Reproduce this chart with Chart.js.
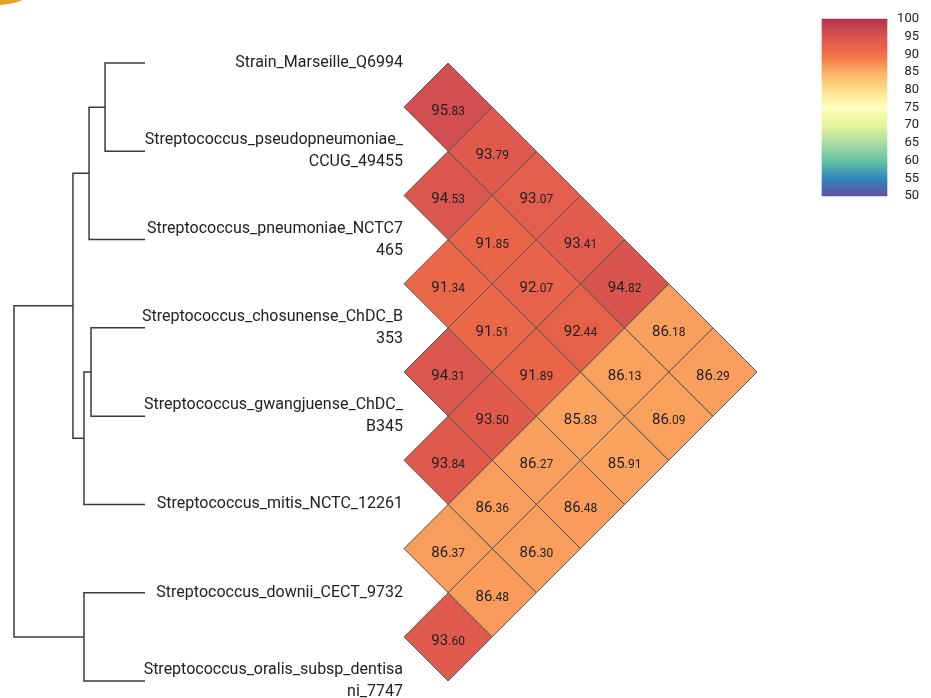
<!DOCTYPE html>
<html>
<head>
<meta charset="utf-8">
<script src="https://cdn.jsdelivr.net/npm/chart.js@4.4.0/dist/chart.umd.min.js"></script>
<style>
  html, body { margin: 0; padding: 0; background: #fff; overflow: hidden; }
  #wrap { position: relative; width: 931px; height: 698px; overflow: hidden; }
  #logo { position: absolute; left: -71px; top: -131px; width: 136px; height: 136px; border-radius: 50%; background: #e6a11f; }
</style>
</head>
<body>
<div id="wrap">
  <canvas id="chart" width="931" height="698"></canvas>
  <div id="logo"></div>
</div>
<script>
// leaf order of the tree (top to bottom), long names wrapped like the original
const strains = [
  'Strain_Marseille_Q6994',
  ['Streptococcus_pseudopneumoniae_', 'CCUG_49455'],
  ['Streptococcus_pneumoniae_NCTC7', '465'],
  ['Streptococcus_chosunense_ChDC_B', '353'],
  ['Streptococcus_gwangjuense_ChDC_', 'B345'],
  'Streptococcus_mitis_NCTC_12261',
  'Streptococcus_downii_CECT_9732',
  ['Streptococcus_oralis_subsp_dentisa', 'ni_7747']
]

// ANI (%) of strain i against strains i+1 .. 7
const aniRow0 = [95.83, 93.79, 93.07, 93.41, 94.82, 86.18, 86.29]
const aniRow1 = [94.53, 91.85, 92.07, 92.44, 86.13, 86.09]
const aniRow2 = [91.34, 91.51, 91.89, 85.83, 85.91]
const aniRow3 = [94.31, 93.50, 86.27, 86.48]
const aniRow4 = [93.84, 86.36, 86.30]
const aniRow5 = [86.37, 86.48]
const aniRow6 = [93.60]
const aniRows = [aniRow0, aniRow1, aniRow2, aniRow3, aniRow4, aniRow5, aniRow6]

// dendrogram merges: leaves are 0-7, merge k makes node 8+k
const mergeLeft = [0, 8, 3, 10, 9, 6, 12]
const mergeRight = [1, 2, 4, 5, 11, 7, 13]
const mergeHeight = [0.305, 0.427, 0.412, 0.466, 0.55, 0.466, 1.0]

const scaleTicks = [100, 95, 90, 85, 80, 75, 70, 65, 60, 55, 50]
const scaleMin = 50
const scaleMax = 100

// spectral palette, high end first (a touch softer at the red end)
const spectral = ['#b2344d', '#d95350', '#f26f45', '#fbae64', '#fee08b', '#ffffbf',
  '#e6f598', '#abdda4', '#66c2a5', '#3288bd', '#5e4fa2']

// layout (pixels)
const W = 931, H = 698
const leafY0 = 63, rowPx = 88.29
const leafX = 145, rootX = 14
const heatX0 = 404, cellPx = 88.25
const barX = 854.5, barTop = 19, barBottom = 196, barWidth = 65
const lineH = 22

function hexRgb (h) {
  return [1, 3, 5].map(i => parseInt(h.slice(i, i + 2), 16))
}

function colorFor (v) {
  const t = (scaleMax - v) / (scaleMax - scaleMin) * (spectral.length - 1)
  const i = Math.max(0, Math.min(spectral.length - 2, Math.floor(t)))
  const f = t - i
  const a = hexRgb(spectral[i]), b = hexRgb(spectral[i + 1])
  const c = a.map((x, k) => Math.round(x + (b[k] - x) * f))
  return `rgb(${c[0]}, ${c[1]}, ${c[2]})`
}

const datasets = []

// tree branches
const nodeY = strains.map((s, i) => i)
const nodeH = strains.map(() => 0)
mergeLeft.forEach((l, k) => {
  const r = mergeRight[k]
  const h = mergeHeight[k]
  datasets.push({
    type: 'line',
    xAxisID: 'xd',
    yAxisID: 'y',
    data: [
      { x: nodeH[l], y: nodeY[l] },
      { x: h, y: nodeY[l] },
      { x: h, y: nodeY[r] },
      { x: nodeH[r], y: nodeY[r] }
    ],
    borderColor: '#3a3a3a',
    borderWidth: 1.5,
    pointRadius: 0,
    fill: false,
    tension: 0
  })
  nodeY.push((nodeY[l] + nodeY[r]) / 2)
  nodeH.push(h)
})

// heatmap diamonds: pair (i, j) sits at u = (j - i) / 2, v = (i + j) / 2
const cells = []
aniRows.forEach((row, i) => {
  row.forEach((val, n) => {
    const j = i + 1 + n
    const u = (j - i) / 2, v = (i + j) / 2
    cells.push({ u, v, val })
    datasets.push({
      type: 'line',
      xAxisID: 'xh',
      yAxisID: 'y',
      data: [
        { x: u - 0.5, y: v },
        { x: u, y: v - 0.5 },
        { x: u + 0.5, y: v },
        { x: u, y: v + 0.5 },
        { x: u - 0.5, y: v }
      ],
      backgroundColor: colorFor(val),
      borderColor: '#555',
      borderWidth: 1,
      pointRadius: 0,
      fill: 'shape',
      tension: 0
    })
  })
})

// colour bar
datasets.push({
  type: 'bar',
  xAxisID: 'xc',
  yAxisID: 'yc',
  data: [{ x: 0, y: [scaleMin, scaleMax] }],
  grouped: false,
  barThickness: barWidth,
  borderWidth: 0,
  backgroundColor: (c) => {
    const ys = c.chart.scales.yc
    if (!ys) return spectral[0]
    const top = ys.getPixelForValue(scaleMax), bottom = ys.getPixelForValue(scaleMin)
    if (!isFinite(top) || !isFinite(bottom)) return spectral[0]
    const g = c.chart.ctx.createLinearGradient(0, top, 0, bottom)
    spectral.forEach((col, k) => g.addColorStop(k / (spectral.length - 1), col))
    return g
  }
})

const textPlugin = {
  id: 'texts',
  afterDatasetsDraw (chart) {
    const { ctx, scales } = chart
    ctx.save()
    ctx.fillStyle = '#222'

    // strain names
    ctx.font = '16px Roboto'
    ctx.textAlign = 'right'
    ctx.textBaseline = 'middle'
    const lx = scales.xh.getPixelForValue(0) - 1
    strains.forEach((lab, i) => {
      const lines = Array.isArray(lab) ? lab : [lab]
      const y = scales.y.getPixelForValue(i)
      lines.forEach((t, k) => ctx.fillText(t, lx, y + (k - (lines.length - 1) / 2) * lineH))
    })

    // cell values, decimals a bit smaller
    ctx.textAlign = 'left'
    ctx.textBaseline = 'alphabetic'
    cells.forEach(c => {
      const s = c.val.toFixed(2).split('.')
      const big = s[0], small = '.' + s[1]
      ctx.font = '15px Roboto'
      const wb = ctx.measureText(big).width
      ctx.font = '12px Roboto'
      const ws = ctx.measureText(small).width
      const x = scales.xh.getPixelForValue(c.u) - (wb + ws) / 2
      const y = scales.y.getPixelForValue(c.v) + 8
      ctx.font = '15px Roboto'
      ctx.fillText(big, x, y)
      ctx.font = '12px Roboto'
      ctx.fillText(small, x + wb, y)
    })

    // colour bar ticks
    ctx.font = '13px Roboto'
    ctx.textAlign = 'right'
    ctx.textBaseline = 'middle'
    scaleTicks.forEach(t => ctx.fillText(String(t), 919, scales.yc.getPixelForValue(t)))
    ctx.restore()
  }
}

const dPx = (leafX - rootX) / Math.max(...mergeHeight)
const dMax = leafX / dPx
const rowMinV = -leafY0 / rowPx
const hMin = -heatX0 / cellPx
const cPx = (barBottom - barTop) / (scaleMax - scaleMin)
const cMax = scaleMax + barTop / cPx

const hidden = { display: false, bounds: 'data', offset: false, grid: { display: false } }

new Chart(document.getElementById('chart').getContext('2d'), {
  type: 'scatter',
  data: { datasets },
  options: {
    responsive: false,
    animation: false,
    devicePixelRatio: 1,
    layout: { padding: 0 },
    plugins: {
      legend: { display: false },
      tooltip: { enabled: false }
    },
    scales: {
      xd: { ...hidden, type: 'linear', position: 'bottom', reverse: true, min: dMax - W / dPx, max: dMax },
      xh: { ...hidden, type: 'linear', position: 'bottom', min: hMin, max: hMin + W / cellPx },
      xc: { ...hidden, type: 'linear', position: 'bottom', min: -barX, max: W - barX },
      y: { ...hidden, type: 'linear', position: 'left', reverse: true, min: rowMinV, max: rowMinV + H / rowPx },
      yc: { ...hidden, type: 'linear', position: 'left', min: cMax - H / cPx, max: cMax }
    }
  },
  plugins: [textPlugin]
})
</script>
</body>
</html>
